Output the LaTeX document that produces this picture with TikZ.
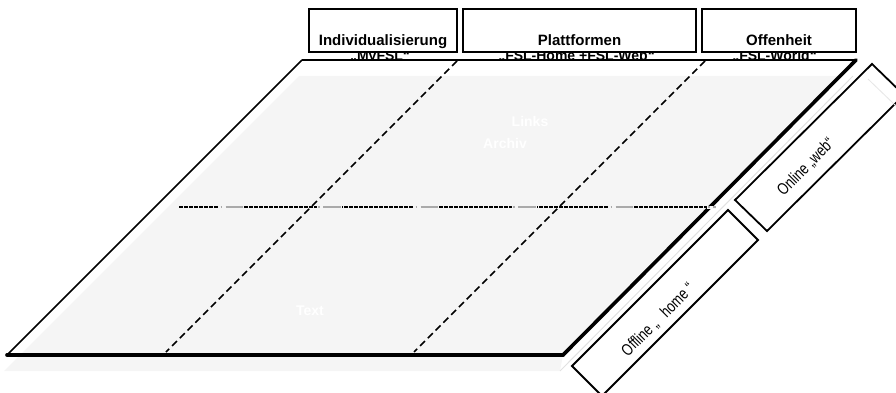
\documentclass[tikz,border=0pt]{standalone}
\usepackage{fontspec}
\setmainfont{Liberation Sans}
\definecolor{plategray}{RGB}{245,245,245}
\definecolor{edgegray}{RGB}{225,225,225}
\definecolor{faintgray}{RGB}{230,230,230}
\definecolor{dashgray}{RGB}{170,170,170}
\begin{document}
\begin{tikzpicture}[x=1pt,y=-1pt,
  titlebox/.style={draw, line width=1.7pt, fill=white},
  titletext/.style={font=\bfseries\fontsize{15}{18}\selectfont, anchor=base, inner sep=0pt},
  subtext/.style={font=\bfseries\fontsize{14}{16}\selectfont, anchor=base, inner sep=0pt},
  whitetext/.style={text=white, font=\bfseries\fontsize{14}{16}\selectfont, inner sep=0pt},
  rotbox/.style={draw, line width=1.8pt, fill=white, line join=miter},
  rottext/.style={font=\fontsize{16.5}{18}\selectfont, rotate=45, inner sep=0pt},
  diagdash/.style={line width=1.5pt, dash pattern=on 7 off 4},
  thinedge/.style={line width=1.7pt},
  thickedge/.style={line width=3.6pt, line cap=round}
]
\useasboundingbox (0,0) rectangle (896,393);

% main plate corners
\coordinate (TL) at (302,60);
\coordinate (TR) at (856,60);
\coordinate (BR) at (563,355);
\coordinate (BL) at (7,355);
% shifted gray plate
\coordinate (gTL) at (299,76);
\coordinate (gTRi) at (840,76);
\coordinate (gTR) at (853,76);
\coordinate (gBR) at (560,371);
\coordinate (gBL) at (4,371);

\fill[plategray] (gTL) -- (gTRi) -- (BR) -- (gBR) -- (gBL) -- cycle;
\draw[line width=1pt, edgegray] (gTR) -- (gBR);

% subtitles, cut by the title boxes above and the top edge below
\begin{scope}
  \clip (0,0) rectangle (896,59);
  \node[subtext] (s1) at (380,61) {„MyFSL“};
  \node[subtext] (s2) at (576.5,61) {„FSL-Home +FSL-Web“};
  \node[subtext] (s3) at (774.5,61) {„FSL-World“};
\end{scope}

% outline edges
\draw[line width=2.2pt] (TL) -- (TR);
\draw[thickedge] (TR) -- (BR);
\draw[thickedge] (BR) -- (BL);
\draw[thinedge] (BL) -- (TL);

% dashed diagonals
\coordinate (d1a) at (457,61);
\coordinate (d1b) at (166,352);
\coordinate (d2a) at (705,61);
\coordinate (d2b) at (414,352);
\draw[diagdash] (d1a) -- (d1b);
\draw[diagdash] (d2a) -- (d2b);

% horizontal dash-dot line
\coordinate (h1) at (179,207);
\coordinate (h2) at (716,207);
\draw[line width=2.2pt, dash pattern=on 3.6 off 1.4] (h1) -- (h2);
\draw[line width=3pt, plategray, dash pattern=on 25 off 72.5, dash phase=57.5] (h1) -- (h2);
\draw[line width=1.6pt, dashgray, dash pattern=on 1.5 off 3.5 on 17.5 off 75, dash phase=56] (h1) -- (h2);

% white labels
\node[whitetext] (links) at (530,121) {Links};
\node[whitetext] (archiv) at (505,143) {Archiv};
\node[whitetext] (text) at (310,311) {Text};

% title boxes
\draw[titlebox] (309,9) rectangle (457,52);
\draw[titlebox] (463,9) rectangle (696,52);
\draw[titlebox] (702,9) rectangle (856,52);
\node[titletext] (t1) at (383,45.5) {Individualisierung};
\node[titletext] (t2) at (579.5,45.5) {Plattformen};
\node[titletext] (t3) at (779,45.5) {Offenheit};

% rotated box: Online web
\coordinate (wL) at (735,200);
\coordinate (wT) at (872,64);
\coordinate (wR) at (904,95);
\coordinate (wB) at (767,231);
\draw[rotbox] (wL) -- (wT) -- (wR) -- (wB) -- cycle;
\coordinate (wf1) at (868,79);
\coordinate (wf2) at (896,106);
\draw[line width=0.8pt, faintgray] (wf1) -- (wf2);
\node[rottext] (web) at (806,167) {\scalebox{0.78}[1]{Online „web“}};

% rotated box: Offline home
\coordinate (oL) at (572,366);
\coordinate (oT) at (728,210);
\coordinate (oR) at (758,240);
\coordinate (oB) at (602,396);
\draw[rotbox] (oL) -- (oT) -- (oR) -- (oB) -- cycle;
\node[rottext] (home) at (658,320) {\scalebox{0.78}[1]{Offline „\hspace{13pt}home “}};
\end{tikzpicture}
\end{document}
